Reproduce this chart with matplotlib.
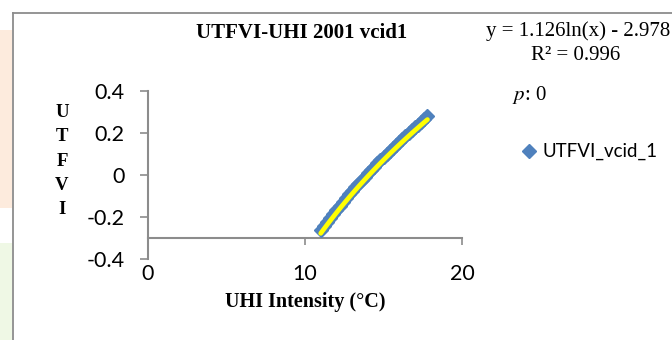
import numpy as np
import matplotlib.pyplot as plt
from matplotlib.lines import Line2D
from matplotlib.patches import Rectangle

plt.rcParams['mathtext.fontset'] = 'stix'

# UHI intensity (deg C) vs UTFVI samples for vcid_1
uhi = [11.0, 11.2, 11.4, 11.6, 11.8, 12.0, 12.2, 12.4, 12.6, 12.8, 13.0, 13.2,
       13.4, 13.6, 13.8, 14.0, 14.2, 14.4, 14.6, 14.8, 15.0, 15.2, 15.4, 15.6,
       15.8, 16.0, 16.2, 16.4, 16.6, 16.8, 17.0, 17.2, 17.4, 17.6, 17.8]
utfvi = [-0.263, -0.243, -0.223, -0.203, -0.184, -0.165, -0.146, -0.128,
         -0.110, -0.092, -0.075, -0.058, -0.041, -0.024, -0.008, 0.009,
         0.025, 0.040, 0.056, 0.071, 0.086, 0.101, 0.116, 0.130, 0.145,
         0.159, 0.173, 0.187, 0.200, 0.214, 0.227, 0.240, 0.253, 0.266, 0.279]

# log trendline y = a*ln(x) + b
coef_a = 1.126
coef_b = -2.978
r_squared = 0.996
p_value = 0

y_ticks = [-0.4, -0.2, 0, 0.2, 0.4]
y_tick_labels = ['-0.4', '-0.2', '0', '0.2', '0.4']
x_ticks = [0, 10, 20]
x_tick_labels = ['0', '10', '20']

W, H = 672, 340
fig = plt.figure(figsize=(W / 100, H / 100), dpi=100)


def px(x, y):
    return x / W, 1 - y / H


# page decoration at the left edge
fig.patches.append(Rectangle(px(0, 208), 12 / W, 178 / H, transform=fig.transFigure,
                             color='#FDEBDD', lw=0, zorder=0))
fig.patches.append(Rectangle(px(0, 340), 12 / W, 97 / H, transform=fig.transFigure,
                             color='#EFF8E5', lw=0, zorder=0))

# chart frame
frame_col = '#8C8C8C'
fig.lines.append(Line2D([13 / W, 1], [1 - 12.5 / H] * 2, transform=fig.transFigure,
                        color=frame_col, lw=1.3))
fig.lines.append(Line2D([13 / W] * 2, [0, 1 - 12.5 / H], transform=fig.transFigure,
                        color=frame_col, lw=1.3))

ax = fig.add_axes([148 / W, 81 / H, 314 / W, 168 / H])
ax.patch.set_alpha(0)

blue = '#4F81BD'
ax.plot(uhi, utfvi, 'D', color=blue, ms=7.5, mec=blue, zorder=3)

xs = np.linspace(min(uhi), max(uhi), 100)
ax.plot(xs, coef_a * np.log(xs) + coef_b, color='#FFFF00', lw=3.4,
        solid_capstyle='round', zorder=4)

ax.set_xlim(0, 20)
ax.set_ylim(-0.4, 0.4)
for s in ['top', 'right']:
    ax.spines[s].set_visible(False)
ax.spines['left'].set_color(frame_col)
ax.spines['bottom'].set_color(frame_col)
ax.spines['left'].set_linewidth(1.5)
ax.spines['bottom'].set_linewidth(1.5)
ax.spines['bottom'].set_position(('data', -0.3))

tick_font = dict(family='Lato', size=15.5)
ax.set_yticks(y_ticks)
ax.set_yticklabels(y_tick_labels, fontdict=tick_font)
ax.set_xticks(x_ticks)
ax.set_xticklabels(x_tick_labels, fontdict=tick_font)
ax.tick_params(axis='y', direction='out', length=5.8, width=1.2, color=frame_col, pad=11)
ax.tick_params(axis='x', direction='out', length=5, width=1.2, color=frame_col, pad=14)

serif = 'Liberation Serif'
fig.text(*px(302, 33), 'UTFVI-UHI 2001 vcid1', family=serif, weight='bold',
         size=15, ha='center', va='center')
fig.text(*px(305, 302), 'UHI Intensity (°C)', family=serif, weight='bold',
         size=14.5, ha='center', va='center')
fig.text(*px(62, 161), 'U\nT\nF\nV\nI', family=serif, weight='bold',
         size=13.5, ha='center', va='center', linespacing=1.56)

fig.text(*px(670, 31), f'y = {coef_a}ln(x) - {abs(coef_b)}', family=serif,
         size=15, ha='right', va='center')
fig.text(*px(576, 55), f'R² = {r_squared}', family=serif, size=15,
         ha='center', va='center')
fig.text(*px(512, 95), rf'$\mathit{{p}}$: {p_value}', family=serif, size=15,
         ha='left', va='center')

# legend
fig.lines.append(Line2D([529 / W], [1 - 151 / H], transform=fig.transFigure,
                        marker='D', color=blue, ms=7, ls='none'))
fig.text(*px(542, 151), 'UTFVI_vcid_1', family='Lato', size=13.5,
         ha='left', va='center')

fig.savefig('out.png', dpi=100)
